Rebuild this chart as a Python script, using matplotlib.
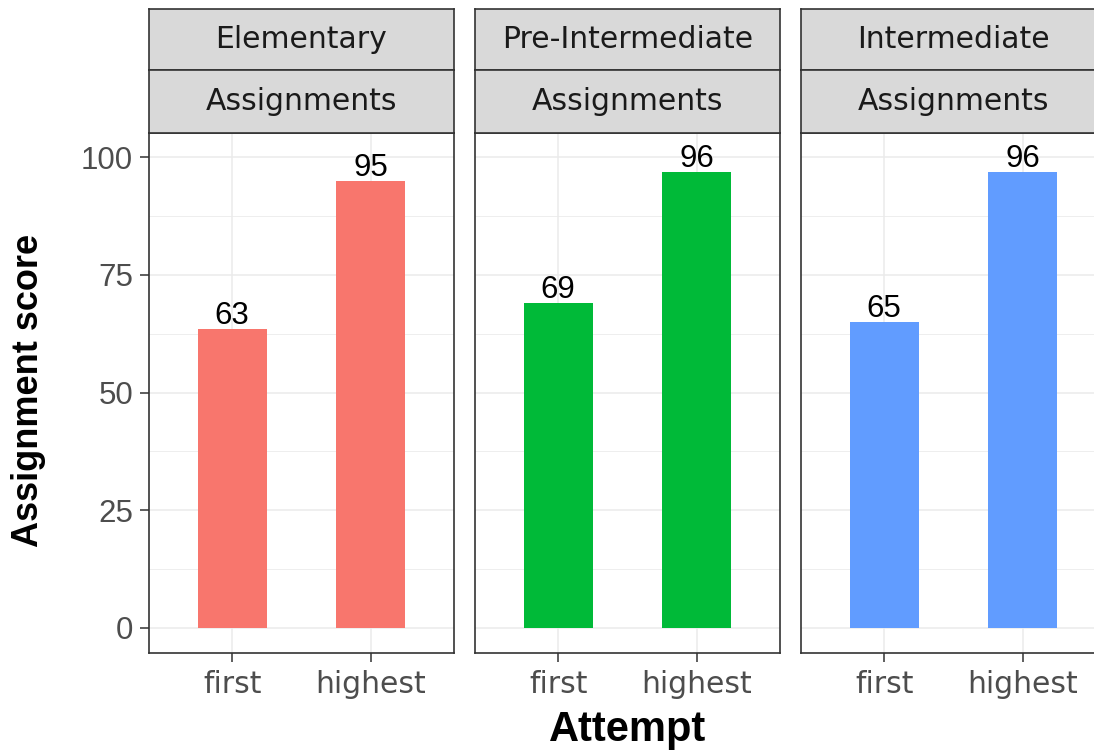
import matplotlib
matplotlib.use("Agg")
import matplotlib.pyplot as plt
import numpy as np

plt.rcParams['font.family'] = ['Liberation Sans', 'DejaVu Sans']

levels = ["Elementary", "Pre-Intermediate", "Intermediate"]
facet2 = "Assignments"
attempts = ["first", "highest"]
elementary_scores = [63.6, 95.0]
preintermediate_scores = [69.0, 96.8]
intermediate_scores = [65.0, 96.8]
colors = ["#F8766D", "#00BA38", "#619CFF"]
yticks = [0, 25, 50, 75, 100]
x_title = "Attempt"
y_title = "Assignment score"

all_scores = [elementary_scores, preintermediate_scores, intermediate_scores]

W, H = 1094, 751
fig = plt.figure(figsize=(W / 100, H / 100), dpi=100)

def fx(px):
    return px / W

def fy(py):
    return 1 - py / H

panel_lefts = [149, 475, 801]
panel_w = 305
panel_top, panel_bot = 133, 653
strip_top, strip_mid = 9, 70

edge = "#333333"
grid = "#EBEBEB"
num_fs = 22.5
word_fs = 21.5
word_font = ["DejaVu Sans"]
num_font = ["Liberation Sans", "DejaVu Sans"]

for i, (lvl, scores, col, pl) in enumerate(zip(levels, all_scores, colors, panel_lefts)):
    ax = fig.add_axes([fx(pl), fy(panel_bot), fx(panel_w), (panel_bot - panel_top) / H])
    ax.set_facecolor("white")
    x = np.arange(1, len(attempts) + 1)
    ax.bar(x, scores, width=0.5, color=col, zorder=3)
    for xi, v in zip(x, scores):
        ax.annotate(str(int(v)), (xi, v), xytext=(0, 3.5), textcoords="offset points",
                    ha="center", va="baseline", fontsize=num_fs, family=num_font,
                    color="black", zorder=4)
    ax.set_xlim(0.4, 2.6)
    ax.set_ylim(-5.35, 105.15)
    ax.set_yticks(yticks)
    ax.set_yticks([12.5, 37.5, 62.5, 87.5], minor=True)
    ax.set_xticks(x)
    ax.set_xticklabels(attempts, family=word_font, fontsize=word_fs)
    ax.grid(True, which="major", color=grid, linewidth=1.1, zorder=0)
    ax.grid(True, which="minor", axis="y", color=grid, linewidth=0.6, zorder=0)
    ax.set_axisbelow(True)
    for s in ax.spines.values():
        s.set_color(edge)
        s.set_linewidth(1.2)
    ax.tick_params(axis="both", which="major", length=6.5, width=1.1, color=edge,
                   labelcolor="#4D4D4D", pad=5)
    ax.tick_params(axis="x", which="major", pad=6)
    ax.tick_params(axis="y", which="minor", length=0)
    if i == 0:
        ax.set_yticklabels([str(t) for t in yticks], family=num_font, fontsize=num_fs)
    else:
        ax.tick_params(axis="y", which="both", left=False, labelleft=False)

    for (t, b, label) in [(strip_top, strip_mid, lvl), (strip_mid, panel_top, facet2)]:
        sa = fig.add_axes([fx(pl), fy(b), fx(panel_w), (b - t) / H])
        sa.set_facecolor("#D9D9D9")
        sa.set_xticks([])
        sa.set_yticks([])
        for s in sa.spines.values():
            s.set_color(edge)
            s.set_linewidth(1.2)
        sa.text(0.5, 0.5, label, ha="center", va="center", fontsize=word_fs,
                family=word_font, color="#1A1A1A", transform=sa.transAxes)

fig.text(fx(627.5), fy(741), x_title, ha="center", va="baseline",
         fontsize=30, fontweight="bold", color="black")
fig.text(fx(29), fy(390), y_title, ha="center", va="center", rotation=90,
         fontsize=26, fontweight="bold", color="black")

fig.savefig("out.png", dpi=100)
